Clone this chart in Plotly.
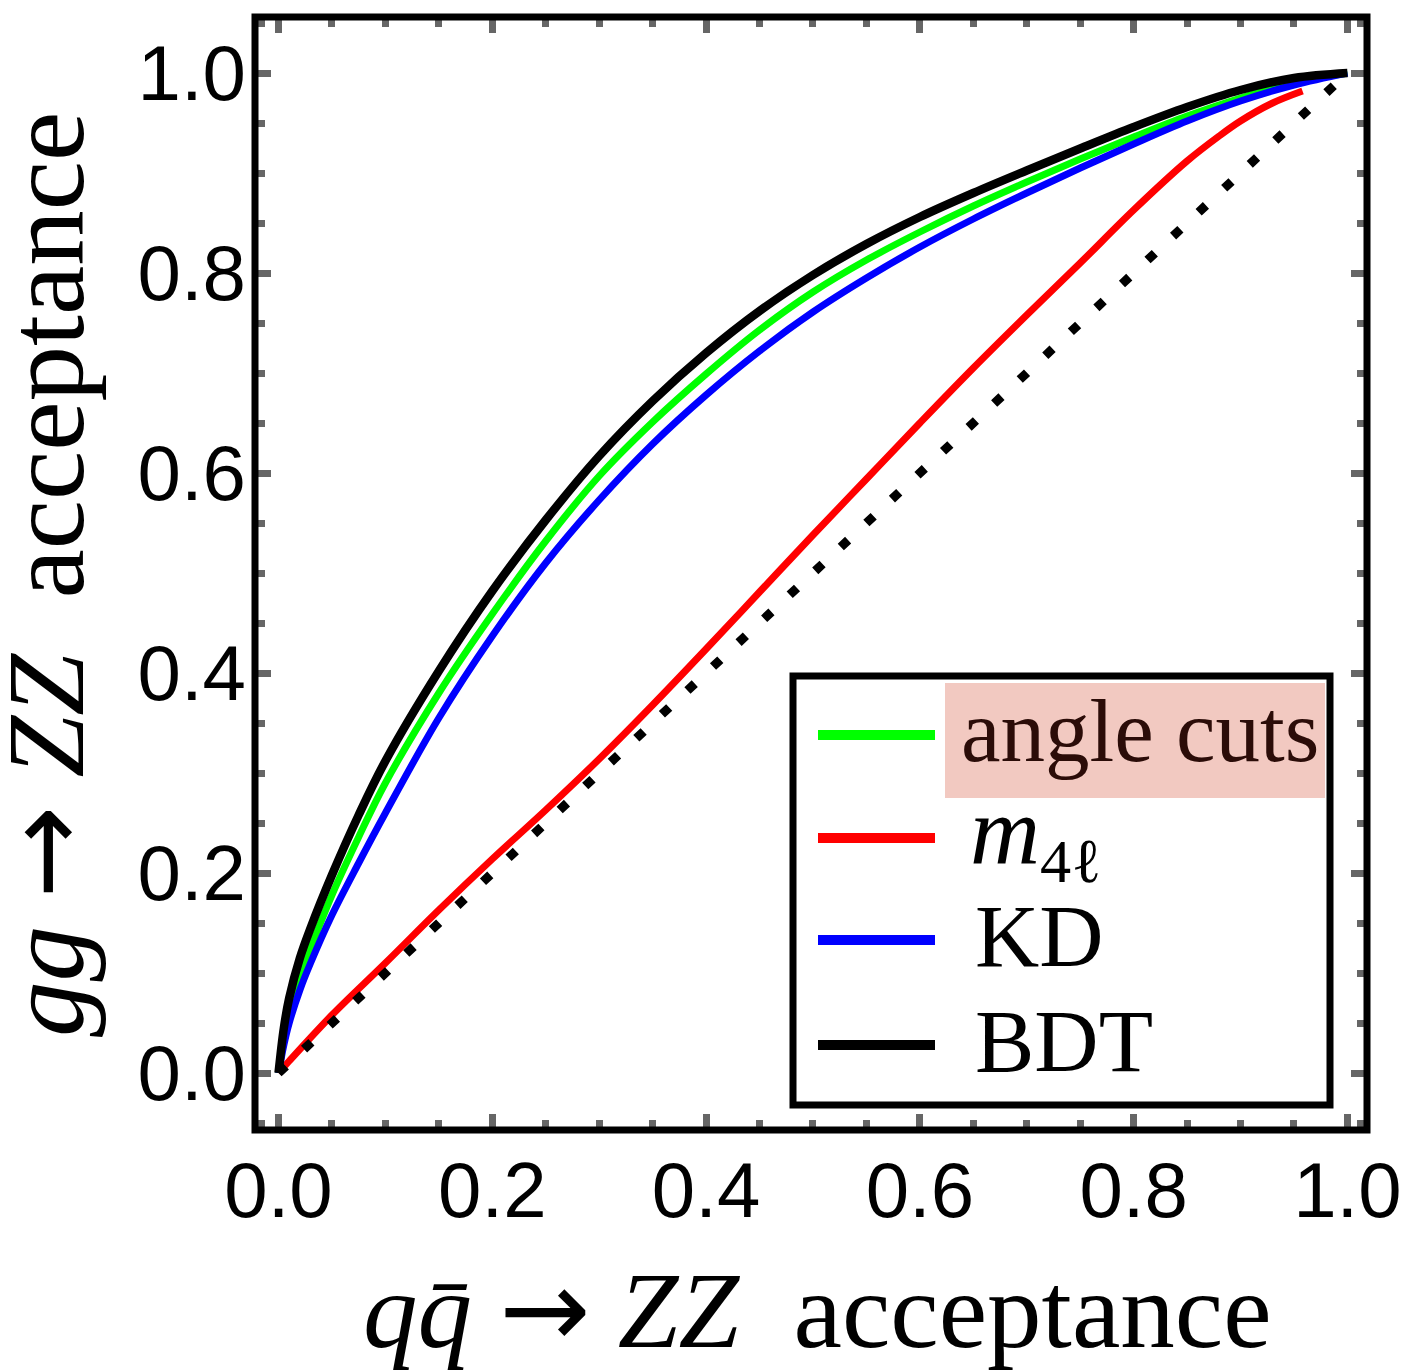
import plotly.graph_objects as go

# ---------------- data ----------------
qq_acc = [0.0, 0.005, 0.01, 0.02, 0.03, 0.05, 0.075, 0.1, 0.15, 0.2, 0.25, 0.3, 0.35,
          0.4, 0.45, 0.5, 0.55, 0.6, 0.65, 0.7, 0.75, 0.8, 0.85, 0.9, 0.95, 1.0]

gg_angle_cuts = [0.0, 0.035, 0.06, 0.097, 0.125, 0.178, 0.236, 0.29, 0.38, 0.459, 0.532, 0.597,
                 0.651, 0.699, 0.743, 0.781, 0.813, 0.841, 0.867, 0.891, 0.914, 0.936, 0.957,
                 0.975, 0.990, 1.0]
gg_kd = [0.0, 0.028, 0.05, 0.083, 0.11, 0.158, 0.21, 0.26, 0.355, 0.437, 0.51, 0.573,
         0.629, 0.678, 0.722, 0.761, 0.795, 0.826, 0.854, 0.880, 0.905, 0.929, 0.952,
         0.972, 0.988, 1.0]
gg_bdt = [0.0, 0.045, 0.075, 0.115, 0.145, 0.198, 0.258, 0.312, 0.402, 0.482, 0.553, 0.617,
          0.672, 0.72, 0.762, 0.798, 0.829, 0.856, 0.880, 0.9025, 0.9245, 0.946, 0.966,
          0.983, 0.995, 1.0]

qq_m4l = [0.0, 0.01, 0.05, 0.1, 0.15, 0.2, 0.25, 0.3, 0.35, 0.4, 0.45, 0.5, 0.55, 0.6,
          0.65, 0.7, 0.75, 0.8, 0.85, 0.88, 0.9, 0.93, 0.958]
gg_m4l = [0.0, 0.012, 0.058, 0.11, 0.163, 0.214, 0.263, 0.314, 0.368, 0.424, 0.481, 0.538,
          0.594, 0.65, 0.705, 0.758, 0.81, 0.863, 0.912, 0.937, 0.952, 0.970, 0.982]

diag = [0.0, 1.0]

legend_names = ["angle cuts",
                '<i><span style="font-size:97px">m</span></i><sub>4ℓ</sub>',
                "KD", "BDT"]
legend_colors = ["#00ff00", "#ff0000", "#0000ff", "#000000"]

x_ticks = [0.0, 0.2, 0.4, 0.6, 0.8, 1.0]
y_ticks = [0.0, 0.2, 0.4, 0.6, 0.8, 1.0]
ARROW = '<span style="font-family:DejaVu Sans">→</span>'
x_title = "<i>q</i><i>q̄</i> " + ARROW + " <i>Z</i><i>Z</i>  acceptance"
y_title = "<i>g</i><i>g</i> " + ARROW + " <i>Z</i><i>Z</i>  acceptance"

# ---------------- figure ----------------
fig = go.Figure()
SM = 1.0
fig.add_trace(go.Scatter(x=qq_m4l, y=gg_m4l, mode="lines",
                         line=dict(color=legend_colors[1], width=7, shape="spline", smoothing=SM)))
fig.add_trace(go.Scatter(x=qq_acc, y=gg_angle_cuts, mode="lines",
                         line=dict(color=legend_colors[0], width=7, shape="spline", smoothing=SM)))
fig.add_trace(go.Scatter(x=qq_acc, y=gg_kd, mode="lines",
                         line=dict(color=legend_colors[2], width=7, shape="spline", smoothing=SM)))
fig.add_trace(go.Scatter(x=qq_acc, y=gg_bdt, mode="lines",
                         line=dict(color=legend_colors[3], width=8.5, shape="spline", smoothing=SM)))
fig.add_trace(go.Scatter(x=diag, y=diag, mode="lines",
                         line=dict(color="black", width=9, dash="10px,25px")))

L, R, T, B = 255, 37, 17, 240
W, H = 1404, 1370
pw, ph = W - L - R, H - T - B


def px2paper_x(px):
    return (px - L) / pw


def px2paper_y(py):
    return (H - B - py) / ph


tick_font = dict(family="Liberation Sans, Arial, sans-serif", size=78, color="black")
common = dict(showgrid=False, zeroline=False, showline=False, ticks="inside",
              ticklen=16, tickwidth=7, tickcolor="#666666", mirror="allticks",
              tickfont=tick_font, tickformat=".1f", automargin=False,
              minor=dict(dtick=0.05, tick0=0, ticks="inside", ticklen=10, tickwidth=7,
                         tickcolor="#666666", showgrid=False))

fig.update_xaxes(range=[-0.022, 1.0183], tickvals=x_ticks, ticklabelstandoff=8, **common)
fig.update_yaxes(range=[-0.057, 1.056], tickvals=y_ticks, ticklabelstandoff=8, **common)

shapes = []
# frame
shapes.append(dict(type="rect", xref="paper", yref="paper", x0=0, x1=1, y0=0, y1=1,
                   line=dict(color="black", width=7), layer="above"))
# legend box
shapes.append(dict(type="rect", xref="paper", yref="paper",
                   x0=px2paper_x(793), x1=px2paper_x(1330), y0=px2paper_y(1105), y1=px2paper_y(676),
                   line=dict(color="black", width=7), fillcolor="white", layer="above"))
# highlight behind "angle cuts"
shapes.append(dict(type="rect", xref="paper", yref="paper",
                   x0=px2paper_x(945), x1=px2paper_x(1325), y0=px2paper_y(798), y1=px2paper_y(683),
                   line=dict(width=0), fillcolor="#f2c9c1", layer="above"))
legend_y = [735, 838, 940, 1045]
for c, yy in zip(legend_colors, legend_y):
    shapes.append(dict(type="line", xref="paper", yref="paper",
                       x0=px2paper_x(818), x1=px2paper_x(935), y0=px2paper_y(yy), y1=px2paper_y(yy),
                       line=dict(color=c, width=10), layer="above"))

serif = "Liberation Serif, Times New Roman, serif"
annotations = []
text_x = [959, 968, 973, 973]
text_dy = [-4, -2, -4, -4]
text_colors = ["#2b0c08", "black", "black", "black"]
for name, yy, tx, dy, tc in zip(legend_names, legend_y, text_x, text_dy, text_colors):
    annotations.append(dict(text=name, xref="paper", yref="paper", x=px2paper_x(tx),
                            y=px2paper_y(yy + dy), xanchor="left", yanchor="middle",
                            showarrow=False, font=dict(family=serif, size=89, color=tc)))

annotations.append(dict(text=x_title, xref="paper", yref="paper", x=px2paper_x(817),
                        y=px2paper_y(1309), xanchor="center", yanchor="middle",
                        showarrow=False, font=dict(family=serif, size=109, color="black")))
annotations.append(dict(text=y_title, xref="paper", yref="paper", x=px2paper_x(44),
                        y=px2paper_y(575), xanchor="center", yanchor="middle", textangle=-90,
                        showarrow=False, font=dict(family=serif, size=111, color="black")))

fig.update_layout(width=W, height=H, autosize=False,
                  margin=dict(l=L, r=R, t=T, b=B, autoexpand=False),
                  paper_bgcolor="white", plot_bgcolor="white", showlegend=False,
                  shapes=shapes, annotations=annotations)

fig.write_html("out.html", config={"responsive": False},
               post_script="document.body.style.margin='0';document.body.style.overflow='hidden';")
